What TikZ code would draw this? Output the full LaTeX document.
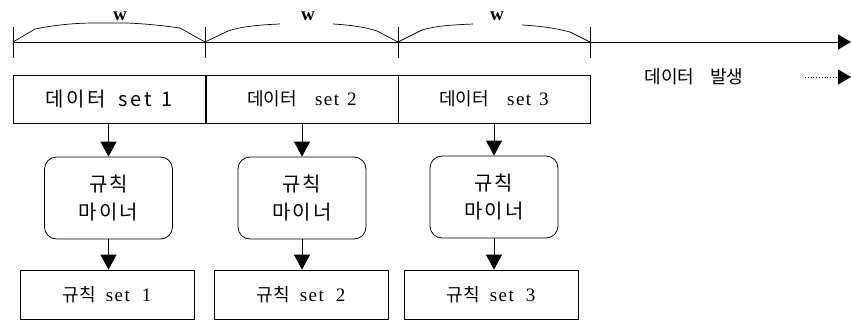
\documentclass[tikz,border=0pt]{standalone}
\usepackage{fontspec}
\setmainfont[LetterSpace=8]{Liberation Serif}
\newfontfamily\kr[Scale=0.95]{Noto Sans CJK KR}
\newfontfamily\krwide[Scale=1.05,LetterSpace=10]{Noto Sans CJK KR}
\newfontfamily\krsans[Scale=1.05,LetterSpace=14]{Noto Sans CJK KR}
\newfontfamily\latsans[Scale=1.05,LetterSpace=14]{Noto Sans CJK KR}
\usetikzlibrary{arrows.meta}
\begin{document}
\begin{tikzpicture}[x=1pt,y=-1pt,
  every node/.style={font=\fontsize{19}{28}\selectfont, inner sep=0pt},
  databox/.style={draw, line width=0.8pt, minimum width=192pt, minimum height=48pt},
  minerbox/.style={draw, line width=0.8pt, rounded corners=12pt, minimum width=128pt, minimum height=82pt, align=center},
  rulebox/.style={draw, line width=0.8pt, minimum width=174pt, minimum height=49pt},
  wlabel/.style={font=\fontsize{19}{19}\selectfont\bfseries},
  flow/.style={line width=1pt, -{Triangle[length=15pt,width=16pt]}},
  axis/.style={line width=1pt},
  brace/.style={line width=0.7pt}
]
\useasboundingbox (0,0) rectangle (851,322);

% time axis with window ticks
\coordinate (a0) at (13,42);
\coordinate (aend) at (851,42);
\draw[axis, -{Triangle[length=13pt,width=15pt]}] (a0) -- (aend);
\foreach \x in {13,205,398,590} \draw[axis] (\x,27) -- (\x,58);

% window braces
\draw[brace] (13,42) -- (35,29) .. controls (60,24) and (80,23) .. (95,23) -- (127,23)
  .. controls (150,24) and (165,26) .. (180,28) -- (205,42);
\draw[brace] (205,42) -- (228,31) .. controls (240,27) and (255,25) .. (280,24);
\draw[brace] (333,24) .. controls (350,25) and (365,27) .. (377,31) -- (398,42);
\draw[brace] (398,42) -- (422,30) .. controls (435,26) and (450,25) .. (473,24);
\draw[brace] (522,25) .. controls (540,26) and (555,28) .. (570,32) -- (590,42);
\node[wlabel] (w1) at (120,16) {w};
\node[wlabel] (w2) at (308,16) {w};
\node[wlabel] (w3) at (497,16) {w};

% legend: data arrival
\node (lg) at (694,77) {{\kr 데이터}\hspace{16pt}{\kr 발생}};
\coordinate (lgs) at (805,77);
\coordinate (lge) at (851,77);
\draw[line width=0.8pt, dotted, -{Triangle[length=13pt,width=15pt]}] (lgs) -- (lge);

% data windows
\node[databox] (d1) at (109,99) {{\krsans 데이터}\hspace{13pt}{\latsans set}\hspace{10pt}{\latsans 1}};
\node[databox] (d2) at (302,99) {{\kr 데이터}\hspace{18pt}set\hspace{8pt}2};
\node[databox] (d3) at (494,99) {{\kr 데이터}\hspace{18pt}set\hspace{8pt}3};

% rule miners
\node[minerbox] (m1) at (108.5,198) {{\krwide 규칙}\\{\krwide 마이너}};
\node[minerbox] (m2) at (302,198) {{\krwide 규칙}\\{\krwide 마이너}};
\node[minerbox] (m3) at (494,197) {{\krwide 규칙}\\{\krwide 마이너}};

% mined rule sets
\node[rulebox] (r1) at (107,294.5) {{\kr 규칙}\hspace{10pt}set\hspace{12pt}1};
\node[rulebox] (r2) at (301,294.5) {{\kr 규칙}\hspace{10pt}set\hspace{12pt}2};
\node[rulebox] (r3) at (491,294.5) {{\kr 규칙}\hspace{10pt}set\hspace{12pt}3};

\foreach \i in {1,2,3} {
  \draw[flow] (d\i.south -| m\i.north) -- (m\i.north);
  \draw[flow] (m\i.south) -- (m\i.south |- r\i.north);
}
\end{tikzpicture}
\end{document}
